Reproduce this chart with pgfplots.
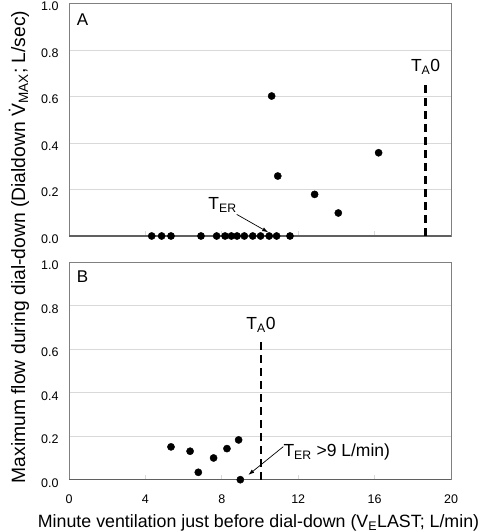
\documentclass[border=0pt]{standalone}
\usepackage{fontspec}
\setmainfont{Liberation Sans}
\usepackage{pgfplots}
\pgfplotsset{compat=1.18}
\usetikzlibrary{arrows.meta}
\definecolor{gridc}{HTML}{D9D9D9}
\definecolor{axc}{HTML}{808080}
\definecolor{zeroc}{HTML}{606060}
\begin{document}
\begin{tikzpicture}
\useasboundingbox (0,0) rectangle (490bp,532bp);
\pgfplotsset{
  common/.style={
    scale only axis, width=382bp, xmin=0, xmax=20, ymin=0, ymax=1,
    xtick={0,4,8,12,16,20}, ytick={0,0.2,0.4,0.6,0.8,1},
    ymajorgrids, major grid style={gridc, line width=0.8bp},
    axis line style={axc, line width=0.8bp},
    tick align=inside, xtick pos=bottom, ytick style={draw=none},
    xtick style={gridc, line width=0.8bp},
    major tick length=5bp,
    /pgf/number format/assume math mode=true,
    tick label style={font=\fontsize{12.5bp}{14bp}\selectfont},
    y tick label style={/pgf/number format/.cd, fixed, fixed zerofill, precision=1, /tikz/.cd, xshift=-7bp, yshift=-3bp},
    x tick label style={yshift=-12bp},
    clip=false,
  },
  mk/.style={only marks, mark=*, mark size=3.6bp, black, mark options={fill=black, draw=black}},
}
% Panel A
\begin{axis}[common, at={(69bp,296bp)}, anchor=south west, height=232.5bp, xticklabel=\empty]
\addplot[zeroc, line width=1.4bp] coordinates {(0,0) (20,0)};
\addplot[mk] coordinates {
(4.33,0) (4.85,0) (5.34,0) (6.91,0) (7.73,0) (8.17,0) (8.50,0) (8.80,0)
(9.18,0) (9.62,0) (10.03,0) (10.48,0) (10.87,0) (11.57,0)
(10.61,0.602) (10.93,0.258) (12.86,0.179) (14.10,0.099) (16.21,0.358)};
\addplot[black, line width=2.6bp, dash pattern=on 8bp off 5bp] coordinates {(18.67,0) (18.67,0.66)};
\node[anchor=base, font=\fontsize{17.5bp}{20bp}\selectfont, inner sep=0pt] at (axis cs:18.67,0.707) {T\textsubscript{A}0};
\node[anchor=base west, font=\fontsize{17.5bp}{20bp}\selectfont, inner sep=0pt] at (axis cs:7.29,0.112) {T\textsubscript{ER}};
\draw[black, line width=0.7bp, -{Latex[length=6bp,width=4bp]}] (axis cs:8.78,0.093) -- (axis cs:10.43,0.016);
\node[anchor=base west, font=\fontsize{17bp}{19bp}\selectfont, inner sep=0pt] at (axis cs:0.40,0.9075) {A};
\end{axis}
% Panel B
\begin{axis}[common, at={(69bp,52.3bp)}, anchor=south west, height=217.4bp]
\addplot[zeroc, line width=1.4bp] coordinates {(0,0) (20,0)};
\addplot[mk] coordinates {
(5.34,0.151) (6.34,0.131) (6.77,0.034) (7.57,0.100) (8.27,0.143) (8.88,0.183) (8.97,0)};
\addplot[black, line width=2.6bp, dash pattern=on 8bp off 5bp] coordinates {(10.05,0) (10.05,0.64)};
\node[anchor=base, font=\fontsize{17.5bp}{20bp}\selectfont, inner sep=0pt] at (axis cs:10.05,0.69) {T\textsubscript{A}0};
\node[anchor=base west, font=\fontsize{17.5bp}{20bp}\selectfont, inner sep=0pt] at (axis cs:11.22,0.106) {T\textsubscript{ER} >9 L/min)};
\draw[black, line width=0.7bp, -{Latex[length=6bp,width=4bp]}] (axis cs:11.22,0.152) -- (axis cs:9.39,0.022);
\node[anchor=base west, font=\fontsize{17bp}{19bp}\selectfont, inner sep=0pt] at (axis cs:0.40,0.905) {B};
\end{axis}
% Axis labels
\node[anchor=base, inner sep=0pt, font=\fontsize{17.8bp}{20bp}\selectfont] at (258.5bp,4.3bp)
  {Minute ventilation just before dial-down (V\textsubscript{E}LAST; L/min)};
\node[anchor=base, rotate=90, inner sep=0pt, font=\fontsize{19.3bp}{22bp}\selectfont] at (25bp,285bp)
  {Maximum flow during dial-down (Dialdown \.{V}\textsubscript{MAX}; L/sec)};
\end{tikzpicture}
\end{document}
